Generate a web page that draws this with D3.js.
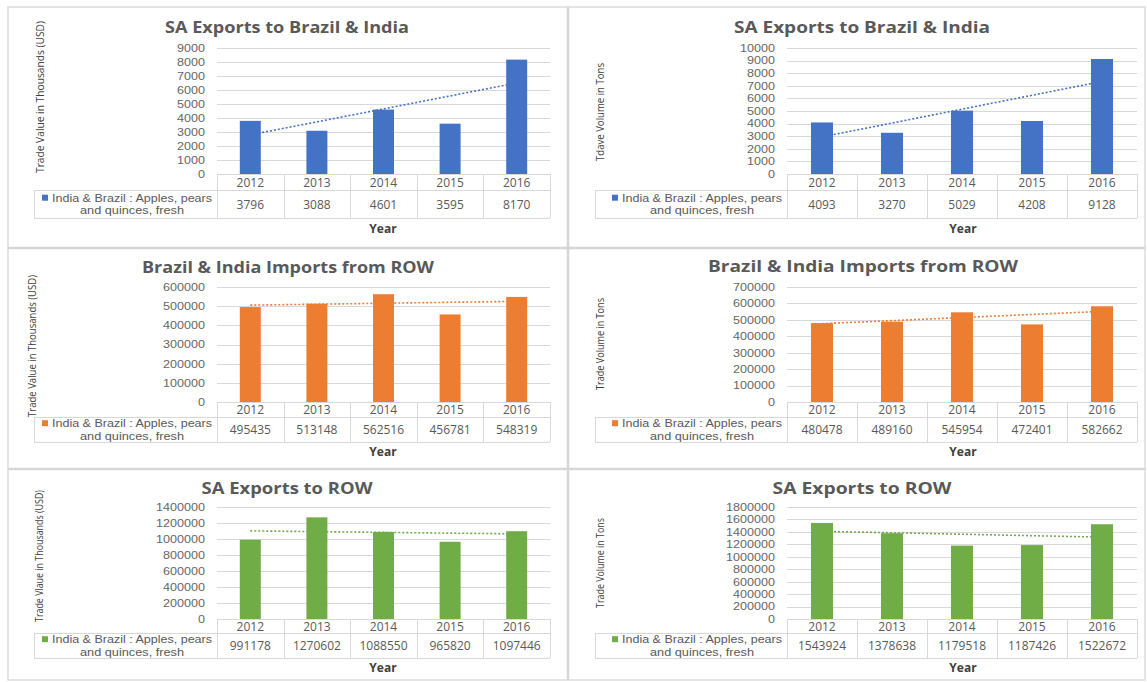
<!DOCTYPE html>
<html>
<head>
<meta charset="utf-8">
<script src="https://cdn.jsdelivr.net/npm/d3@7"></script>
<style>
  html, body { margin: 0; padding: 0; background: #ffffff; }
  svg { display: block; }
</style>
</head>
<body>
<svg id="chart" width="1147" height="682"></svg>
<script>
// ---------------- DATA ----------------
const years = ["2012", "2013", "2014", "2015", "2016"];
const seriesName = ["India & Brazil : Apples, pears", "and quinces, fresh"];

const saToBrazilIndiaValue  = [3796, 3088, 4601, 3595, 8170];
const saToBrazilIndiaVolume = [4093, 3270, 5029, 4208, 9128];
const brazilIndiaImportsValue  = [495435, 513148, 562516, 456781, 548319];
const brazilIndiaImportsVolume = [480478, 489160, 545954, 472401, 582662];
const saToRowValue  = [991178, 1270602, 1088550, 965820, 1097446];
const saToRowVolume = [1543924, 1378638, 1179518, 1187426, 1522672];

const titles = ["SA Exports to Brazil & India", "SA Exports to Brazil & India",
                "Brazil & India Imports from ROW", "Brazil & India Imports from ROW",
                "SA Exports to ROW", "SA Exports to ROW"];
const yLabels = ["Trade Value in Thousands (USD)", "Tdave Volume in Tons",
                 "Trade Value in Thousands (USD)", "Trade Volume in Tons",
                 "Trade Vlaue in Thousands (USD)", "Trade Volume in Tons"];
const yMax  = [9000, 10000, 600000, 700000, 1400000, 1800000];
const yStep = [1000, 1000, 100000, 100000, 200000, 200000];
const xTitle = "Year";

// ---------------- LAYOUT / STYLE ----------------
const BLUE = "#4472C4", ORANGE = "#ED7D31", GREEN = "#70AD47";
const layouts = [
  {values: saToBrazilIndiaValue,  color: BLUE,   x0: 217, x1: 550, yTop: 48,  yBase: 174, r1: 16, r2: 28, legL: 34,  titleX: 287, titleY: 27,  titleLen: 244, ylX: 39,  ylY: 97,  ylLen: 152, yearX: 383, yearY: 228},
  {values: saToBrazilIndiaVolume, color: BLUE,   x0: 787, x1: 1137, yTop: 48, yBase: 174, r1: 16, r2: 28, legL: 595, titleX: 862, titleY: 27,  titleLen: 256, ylX: 599, ylY: 112, ylLen: 98,  yearX: 963, yearY: 228},
  {values: brazilIndiaImportsValue,  color: ORANGE, x0: 217, x1: 550, yTop: 287, yBase: 402, r1: 15, r2: 25, legL: 34,  titleX: 288, titleY: 267, titleLen: 292, ylX: 31,  ylY: 346, ylLen: 142, yearX: 383, yearY: 451},
  {values: brazilIndiaImportsVolume, color: ORANGE, x0: 787, x1: 1137, yTop: 287, yBase: 402, r1: 15, r2: 25, legL: 595, titleX: 863, titleY: 266, titleLen: 310, ylX: 599, ylY: 344, ylLen: 92,  yearX: 963, yearY: 451},
  {values: saToRowValue,  color: GREEN, x0: 217, x1: 550, yTop: 507, yBase: 619, r1: 14, r2: 25, legL: 34,  titleX: 287, titleY: 488, titleLen: 171, ylX: 38,  ylY: 556, ylLen: 132, yearX: 383, yearY: 667},
  {values: saToRowVolume, color: GREEN, x0: 787, x1: 1137, yTop: 507, yBase: 619, r1: 14, r2: 25, legL: 595, titleX: 862, titleY: 488, titleLen: 179, ylX: 599, ylY: 563, ylLen: 90,  yearX: 963, yearY: 667}
];

const FONT = "'Open Sans', 'Liberation Sans', Arial, sans-serif";
const TICKFONT = "'Liberation Sans', Arial, sans-serif";
const GRID = "#d9d9d9";
const TEXT = "#595959";

const svg = d3.select("#chart");

// panel frame
const frame = svg.append("g");
frame.append("rect").attr("x", 8).attr("y", 7).attr("width", 1137).attr("height", 673)
  .attr("fill", "none").attr("stroke", "#dcdcdc").attr("stroke-width", 1.5);
frame.append("line").attr("x1", 568).attr("x2", 568).attr("y1", 7).attr("y2", 680)
  .attr("stroke", "#d6d6d6").attr("stroke-width", 2.5);
[248, 469].forEach(y => frame.append("line").attr("x1", 8).attr("x2", 1145).attr("y1", y).attr("y2", y)
  .attr("stroke", "#d6d6d6").attr("stroke-width", 2.5));

layouts.forEach((L, i) => {
  const g = svg.append("g");
  const x = d3.scaleBand().domain(years).range([L.x0, L.x1]).padding(0);
  const y = d3.scaleLinear().domain([0, yMax[i]]).range([L.yBase, L.yTop]);
  const ticks = d3.range(0, yMax[i] + yStep[i] / 2, yStep[i]);

  // gridlines
  g.append("g").selectAll("line").data(ticks.filter(t => t > 0)).join("line")
    .attr("x1", L.x0).attr("x2", L.x1)
    .attr("y1", d => Math.round(y(d)) + 0.5).attr("y2", d => Math.round(y(d)) + 0.5)
    .attr("stroke", GRID).attr("stroke-width", 1);

  // y axis (labels only) via d3.axisLeft
  const fmt = d3.format("d");
  const ax = g.append("g").attr("transform", `translate(${L.x0},0)`)
    .call(d3.axisLeft(y).tickValues(ticks).tickSize(0).tickPadding(12).tickFormat(fmt));
  ax.select(".domain").remove();
  ax.selectAll("text").attr("fill", "#666").style("font-family", TICKFONT).style("font-size", "10.5px")
    .attr("textLength", d => fmt(d).length * 7).attr("lengthAdjust", "spacingAndGlyphs");

  // trendline (least squares through category centers), drawn behind bars
  const n = L.values.length;
  const xs = d3.range(n);
  const mx = d3.mean(xs), my = d3.mean(L.values);
  const slope = d3.sum(xs, k => (k - mx) * (L.values[k] - my)) / d3.sum(xs, k => (k - mx) * (k - mx));
  const icpt = my - slope * mx;
  const cx = k => x(years[k]) + x.bandwidth() / 2;
  g.append("line")
    .attr("x1", cx(0)).attr("y1", y(icpt))
    .attr("x2", cx(n - 1)).attr("y2", y(icpt + slope * (n - 1)))
    .attr("stroke", L.color).attr("stroke-width", 1.6).attr("stroke-dasharray", "2,2");

  // bars
  const bw = x.bandwidth() * 0.315;
  g.append("g").selectAll("rect").data(years).join("rect")
    .attr("x", d => x(d) + x.bandwidth() / 2 - bw / 2)
    .attr("width", bw)
    .attr("y", (d, k) => y(L.values[k]))
    .attr("height", (d, k) => L.yBase - y(L.values[k]))
    .attr("fill", L.color);

  // data table
  const t = g.append("g").attr("stroke", GRID).attr("stroke-width", 1).attr("fill", "none");
  const yR1 = L.yBase + L.r1, yR2 = L.yBase + L.r1 + L.r2;
  t.append("line").attr("x1", L.x0).attr("x2", L.x1).attr("y1", L.yBase + 0.5).attr("y2", L.yBase + 0.5);
  t.append("line").attr("x1", L.legL).attr("x2", L.x1).attr("y1", yR1 + 0.5).attr("y2", yR1 + 0.5);
  t.append("line").attr("x1", L.legL).attr("x2", L.x1).attr("y1", yR2 + 0.5).attr("y2", yR2 + 0.5);
  t.append("line").attr("x1", L.legL + 0.5).attr("x2", L.legL + 0.5).attr("y1", yR1).attr("y2", yR2);
  const bounds = years.map(d => x(d)).concat([L.x1]);
  t.selectAll(".v").data(bounds).join("line")
    .attr("x1", d => Math.round(d) + 0.5).attr("x2", d => Math.round(d) + 0.5)
    .attr("y1", L.yBase).attr("y2", yR2);

  g.append("g").selectAll("text").data(years).join("text")
    .attr("x", d => x(d) + x.bandwidth() / 2).attr("y", L.yBase + L.r1 / 2)
    .attr("text-anchor", "middle").attr("dominant-baseline", "central")
    .attr("fill", TEXT).style("font-family", FONT).style("font-size", "12px")
    .text(d => d);
  g.append("g").selectAll("text").data(L.values).join("text")
    .attr("x", (d, k) => x(years[k]) + x.bandwidth() / 2).attr("y", yR1 + L.r2 / 2)
    .attr("text-anchor", "middle").attr("dominant-baseline", "central")
    .attr("fill", TEXT).style("font-family", FONT).style("font-size", "12px")
    .text(d => d);

  // legend cell (two lines, compact font so lines do not collide)
  const midR2 = yR1 + L.r2 / 2;
  const w1 = 160, w2 = 104;
  const xr = L.x0 - 5;
  g.append("text").attr("x", xr).attr("y", midR2 - 6.3)
    .attr("text-anchor", "end").attr("dominant-baseline", "central")
    .attr("fill", TEXT).style("font-family", TICKFONT).style("font-size", "11px")
    .attr("textLength", w1).attr("lengthAdjust", "spacingAndGlyphs")
    .text(seriesName[0]);
  g.append("text").attr("x", xr - w1 / 2).attr("y", midR2 + 6.3)
    .attr("text-anchor", "middle").attr("dominant-baseline", "central")
    .attr("fill", TEXT).style("font-family", TICKFONT).style("font-size", "11px")
    .attr("textLength", w2).attr("lengthAdjust", "spacingAndGlyphs")
    .text(seriesName[1]);
  g.append("rect").attr("x", xr - w1 - 10).attr("y", midR2 - 6.3 - 3)
    .attr("width", 6).attr("height", 6).attr("fill", L.color);

  // x title
  g.append("text").attr("x", L.yearX).attr("y", L.yearY)
    .attr("text-anchor", "middle").attr("dominant-baseline", "central")
    .attr("fill", "#404040").style("font-family", FONT).style("font-size", "12px").style("font-weight", "bold")
    .text(xTitle);

  // chart title
  g.append("text").attr("x", L.titleX).attr("y", L.titleY)
    .attr("text-anchor", "middle").attr("dominant-baseline", "central")
    .attr("fill", "#595959").style("font-family", FONT).style("font-size", "15.5px").style("font-weight", "bold")
    .attr("textLength", L.titleLen).attr("lengthAdjust", "spacingAndGlyphs")
    .text(titles[i]);

  // y title
  g.append("text").attr("transform", `translate(${L.ylX},${L.ylY}) rotate(-90)`)
    .attr("text-anchor", "middle").attr("dominant-baseline", "central")
    .attr("fill", "#404040").style("font-family", FONT).style("font-size", "11.5px")
    .attr("textLength", L.ylLen).attr("lengthAdjust", "spacingAndGlyphs")
    .text(yLabels[i]);
});
</script>
</body>
</html>
